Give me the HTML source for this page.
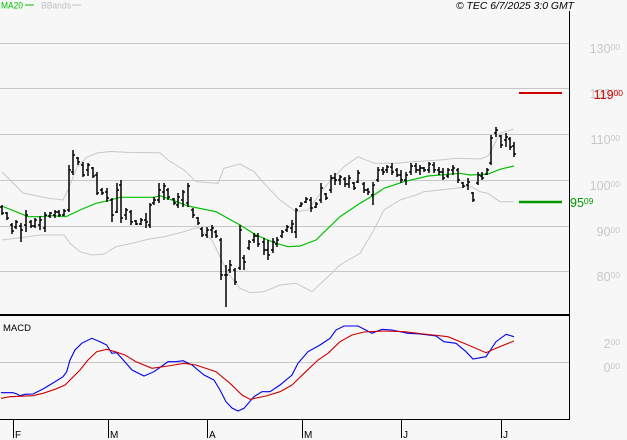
<!DOCTYPE html>
<html><head><meta charset="utf-8"><style>
html,body{margin:0;padding:0;background:#f7f7f7;}
svg{display:block;}
text{font-family:"Liberation Sans",sans-serif;}
</style></head><body>
<svg width="627" height="440" viewBox="0 0 627 440" xmlns="http://www.w3.org/2000/svg">
<rect x="0" y="0" width="627" height="440" fill="#f7f7f7"/>
<g stroke="#c8c8c8" stroke-width="1">
<line x1="0" y1="43.5" x2="569" y2="43.5"/>
<line x1="0" y1="88.5" x2="569" y2="88.5"/>
<line x1="0" y1="134.5" x2="569" y2="134.5"/>
<line x1="0" y1="180.5" x2="569" y2="180.5"/>
<line x1="0" y1="226.5" x2="569" y2="226.5"/>
<line x1="0" y1="271.5" x2="569" y2="271.5"/>
<line x1="0" y1="362.5" x2="569" y2="362.5"/>
</g>
<g fill="#c8c8c8" font-size="12.5" text-anchor="end">
<text x="620" y="53">130<tspan font-size="8.5" dy="-3">00</tspan></text>
<text x="620" y="98">120<tspan font-size="8.5" dy="-3">00</tspan></text>
<text x="620" y="144">110<tspan font-size="8.5" dy="-3">00</tspan></text>
<text x="620" y="190">100<tspan font-size="8.5" dy="-3">00</tspan></text>
<text x="620" y="236">90<tspan font-size="8.5" dy="-3">00</tspan></text>
<text x="620" y="281">80<tspan font-size="8.5" dy="-3">00</tspan></text>
<text x="620" y="348">2<tspan font-size="8.5" dy="-3">00</tspan></text>
<text x="620" y="372">0<tspan font-size="8.5" dy="-3">00</tspan></text>
</g>
<text x="623" y="99" fill="#cc0000" font-size="12.5" text-anchor="end">119<tspan font-size="8.5" dy="-3">00</tspan></text>
<text x="570" y="207" fill="#009900" font-size="12.5">95<tspan font-size="8.5" dy="-3">09</tspan></text>
<line x1="519" y1="93" x2="562" y2="93" stroke="#cc0000" stroke-width="2"/>
<line x1="519" y1="202" x2="562" y2="202" stroke="#009900" stroke-width="2.5"/>
<g fill="none" stroke="#c8c8c8" stroke-width="1">
<polyline points="1.7,171.7 13,183 23,193 47,198 63,200 68,190 77,167 87,157 97,153 110,151.5 130,152.5 160,152.7 168,160 184,170 196,181.7 218,183.3 224,168.3 240,164 254,171.7 264,183.3 280,200 296,211.7 308,210 328,183.3 344,166.7 358,156.7 374,163.3 396,163.3 412,161.7 440,160 456,158.3 480,159 488,156 494,145 500,133.3 514,129"/>
<polyline points="1.7,240 16,238.3 24,237.3 40,235 64,235 70,243.3 80,251.7 92,255 104,254 116,246.7 132,243.3 148,239.3 164,236.7 184,231.7 198,227.3 212,240 220,256.7 228,273.3 240,288.3 250,292.7 264,291.7 280,285 296,283.3 312,291.7 328,276.7 340,265 360,253.3 372,233.3 384,210 400,200 416,195 424,191.7 440,190 456,188.3 470,186 480,191.7 488,193.3 500,201.7 514,201.7"/>
</g>
<polyline fill="none" stroke="#00c000" stroke-width="1.2" points="1.7,206 16,211.7 28,216.7 40,216.7 52,215.7 66,216.7 80,210 96,203.3 108,200.7 120,197.3 154,197.3 160,195.7 172,200 188,206 216,211.7 240,225 256,235 276,243.3 288,246.7 300,246 316,240 328,228.3 340,216.7 360,203.3 374,195 384,188.3 404,181.7 428,176 440,175 460,173.3 470,175 488,174 500,169.3 514,166"/>
<path fill="none" stroke="#000" stroke-width="1.5" d="M2 205V215M0 207H2M2 213H4 M7 212V220M5 213H7M7 218H9 M12 223V234M10 225H12M12 231H14 M16 220V229M14 227H16M16 222H18 M21 223V242M19 226H21M21 230H23 M26 210V232M24 225H26M26 215H28 M31 220V228M29 222H31M31 226H33 M35 218V228M33 226H35M35 220H37 M40 216V230M38 225H40M40 220H42 M45 212V232M43 228H45M45 215H47 M50 212V218M48 216H50M50 213H52 M55 210V218M53 215H55M55 212H57 M59 210V217M57 212H59M59 215H61 M64 209V216M62 215H64M64 211H66 M69 165V212M67 210H69M69 170H71 M73 150V175M71 172H73M73 155H75 M78 157V165M76 158H78M78 162H80 M83 162V177M81 165H83M83 175H85 M88 163V176M86 170H88M88 165H90 M93 167V178M91 168H93M93 176H95 M97 172V195M95 175H97M97 193H99 M102 188V195M100 190H102M102 193H104 M107 188V202M105 192H107M107 198H109 M112 198V222M110 200H112M112 215H114 M117 183V213M115 212H117M117 190H119 M121 180V223M119 185H121M121 218H123 M126 208V220M124 215H126M126 210H128 M131 210V225M129 212H131M131 222H133 M136 220V225M134 221H136M136 224H138 M141 218V225M139 224H141M141 220H143 M146 213V228M144 220H146M146 222H148 M150 203V228M148 225H150M150 205H152 M154 197V205M152 203H154M154 200H156 M159 183V203M157 200H159M159 190H161 M164 183V200M162 192H164M164 186H166 M168 188V200M166 190H168M168 197H170 M174 198V205M172 199H174M174 203H176 M178 193V208M176 205H178M178 197H180 M183 190V207M181 200H183M183 192H185 M188 183V207M186 203H188M188 186H190 M193 208V218M191 210H193M193 215H195 M198 217V225M196 218H198M198 223H200 M202 227V237M200 229H202M202 235H204 M207 227V238M205 235H207M207 230H209 M212 225V238M210 230H212M212 228H214 M216 230V238M214 232H216M216 236H218 M221 238V280M219 240H221M221 275H223 M226 265V307M224 275H226M226 275H228 M230 260V273M228 270H230M230 265H232 M235 268V285M233 270H235M235 282H237 M240 225V270M238 268H240M240 230H242 M244 255V270M242 258H244M244 262H246 M249 240V250M247 248H249M249 242H251 M254 233V243M252 240H254M254 236H256 M258 233V247M256 236H258M258 244H260 M264 238V255M262 242H264M264 250H266 M268 240V260M266 250H268M268 255H270 M273 238V253M271 250H273M273 242H275 M277 237V247M275 244H277M277 240H279 M282 230V238M280 236H282M282 232H284 M287 225V232M285 230H287M287 227H289 M292 220V233M290 228H292M292 224H294 M296 208V238M294 232H296M296 210H298 M301 202V207M299 206H301M301 204H303 M306 197V203M304 202H306M306 199H308 M311 197V212M309 200H311M311 208H313 M316 202V208M314 207H316M316 204H318 M321 183V203M319 200H321M321 188H323 M326 193V200M324 194H326M326 198H328 M331 175V193M329 190H331M331 178H333 M335 173V185M333 178H335M335 180H337 M340 175V185M338 180H340M340 177H342 M345 177V187M343 179H345M345 184H347 M349 175V188M347 184H349M349 178H351 M354 182V190M352 183H354M354 188H356 M358 170V183M356 182H358M358 173H360 M364 182V193M362 184H364M364 190H366 M368 188V195M366 190H368M368 192H370 M373 182V205M371 195H373M373 185H375 M378 167V182M376 180H378M378 170H380 M383 167V175M381 170H383M383 172H385 M387 165V173M385 170H387M387 167H389 M392 163V175M390 167H392M392 172H394 M397 168V177M395 170H397M397 175H399 M401 170V183M399 175H401M401 180H403 M406 172V185M404 180H406M406 175H408 M411 163V175M409 172H411M411 166H413 M416 163V173M414 166H416M416 170H418 M420 165V175M418 170H420M420 168H422 M424 167V172M422 168H424M424 170H426 M429 162V173M427 170H429M429 164H431 M434 162V173M432 165H434M434 170H436 M439 167V175M437 170H439M439 172H441 M443 168V180M441 172H443M443 178H445 M448 168V178M446 176H448M448 170H450 M453 165V175M451 170H453M453 168H455 M458 168V183M456 170H458M458 180H460 M463 182V188M461 183H463M463 186H465 M468 178V190M466 185H468M468 182H470 M473 192V202M471 193H473M473 200H475 M478 172V185M476 183H478M478 175H480 M482 172V180M480 176H482M482 178H484 M487 168V175M485 174H487M487 170H489 M491 135V165M489 163H491M491 138H493 M496 127V137M494 133H496M496 130H498 M501 135V148M499 136H501M501 145H503 M506 133V147M504 140H506M506 137H508 M510 137V150M508 139H510M510 147H512 M514 142V157M512 146H514M514 154H516"/>
<polyline fill="none" stroke="#0000ee" stroke-width="1.1" points="1,392.7 13,392.7 17,394 20,395.7 25,394.3 33,394 43,389 53,383 63,376.7 66.7,371.7 70,360 75,350 81.7,343.3 91.7,338.3 100,341.7 106.7,345 111.7,353.3 116.7,352.7 123.3,360 132,370 144,376 154,371.7 162,366 168,361.7 176,361.7 183,360.7 192,365 204,375 214,380 220,390 226,401.7 232,408 238,411 244,408.3 254,396.7 262,391.7 270,391.7 280,385 292,375 298,363.3 308,351.7 320,345 330,338.3 336,330 344,326 358,326 372,333.3 382,329.3 392,330 408,333.3 420,334 436,336 444,341.7 456,343.3 466,351.7 473,359 486,356.7 496,341.7 506,334.3 514,336.7"/>
<polyline fill="none" stroke="#cc0000" stroke-width="1.1" points="1,398.3 10,396.7 33,395.7 43,393.3 55,389.3 65,385 71.7,378.3 80,370 88,360 96.7,351.7 106.7,349.3 115,351.7 125,355 136,361.7 152,368.3 168,366 184,363.3 196,365 216,371.7 230,383.3 242,395 250,399.3 266,396 280,391.7 292,385 304,373.3 318,360 328,353.3 340,341.7 352,335 364,332 384,331 404,331.7 424,334 448,336.7 464,343.3 486,352.7 496,348.3 514,341"/>
<line x1="569.5" y1="11" x2="569.5" y2="420" stroke="#000" stroke-width="1"/>
<line x1="0" y1="315" x2="570" y2="315" stroke="#000" stroke-width="2"/>
<line x1="0" y1="419.5" x2="570" y2="419.5" stroke="#000" stroke-width="1"/>
<g stroke="#000" stroke-width="1">
<line x1="13.5" y1="419" x2="13.5" y2="438"/>
<line x1="108.5" y1="419" x2="108.5" y2="438"/>
<line x1="207.5" y1="419" x2="207.5" y2="438"/>
<line x1="302.5" y1="419" x2="302.5" y2="438"/>
<line x1="401.5" y1="419" x2="401.5" y2="438"/>
<line x1="501.5" y1="419" x2="501.5" y2="438"/>
</g>
<g fill="#000" font-size="10">
<text x="15" y="438">F</text>
<text x="110" y="438">M</text>
<text x="209" y="438">A</text>
<text x="304" y="438">M</text>
<text x="403" y="438">J</text>
<text x="503" y="438">J</text>
</g>
<text x="1" y="8.5" fill="#00c000" font-size="9.5" textLength="22" lengthAdjust="spacingAndGlyphs">MA20</text>
<line x1="25" y1="5" x2="34" y2="5" stroke="#00c000" stroke-width="1"/>
<text x="41" y="8.5" fill="#c0c0c0" font-size="9.5" textLength="30" lengthAdjust="spacingAndGlyphs">BBands</text>
<line x1="72" y1="5" x2="81" y2="5" stroke="#c0c0c0" stroke-width="1"/>
<text x="456" y="9" fill="#000" font-size="10" font-style="italic" textLength="118" lengthAdjust="spacingAndGlyphs">© TEC 6/7/2025 3:0 GMT</text>
<text x="3" y="331" fill="#000" font-size="9.5" textLength="28" lengthAdjust="spacingAndGlyphs">MACD</text>
</svg>
</body></html>
